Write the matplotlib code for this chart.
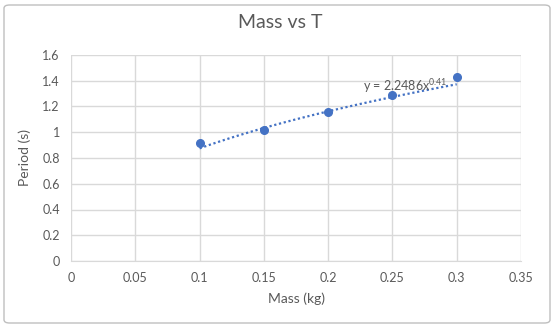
import matplotlib
matplotlib.use("Agg")
import matplotlib.pyplot as plt
import numpy as np
from matplotlib.patches import FancyBboxPatch

mass = [0.1, 0.15, 0.2, 0.25, 0.3]
period = [0.92, 1.02, 1.16, 1.29, 1.43]
coef_a = 2.2486
coef_b = 0.41

plt.rcParams['font.family'] = ['Lato', 'DejaVu Sans']
plt.rcParams['mathtext.fontset'] = 'custom'
plt.rcParams['mathtext.rm'] = 'Lato'
plt.rcParams['mathtext.it'] = 'Lato'
gray = '#595959'
blue = '#4472C4'

fig = plt.figure(figsize=(5.6, 3.27), dpi=100)
ax = fig.add_axes([71/560, 1-261/327, 450/560, 206/327])

xt = np.linspace(min(mass), max(mass), 100)
ax.plot(xt, coef_a * xt ** coef_b, linestyle=(0, (1, 1.2)), color=blue, lw=1.6, zorder=2)
ax.plot(mass, period, 'o', color=blue, markersize=5.5, zorder=3)

ax.set_xlim(0, 0.35)
ax.set_ylim(0, 1.6)
ax.set_xticks(np.arange(0, 0.351, 0.05))
ax.set_yticks(np.arange(0, 1.61, 0.2))
ax.set_xticklabels(['0', '0.05', '0.1', '0.15', '0.2', '0.25', '0.3', '0.35'])
ax.set_yticklabels(['0', '0.2', '0.4', '0.6', '0.8', '1', '1.2', '1.4', '1.6'])
ax.grid(True, color='#D9D9D9', lw=1)
ax.set_axisbelow(True)
for s in ['top', 'right', 'left']:
    ax.spines[s].set_visible(False)
ax.spines['bottom'].set_color('#D9D9D9')
ax.tick_params(length=0, colors=gray, labelsize=9, pad=8)
ax.set_xlabel('Mass (kg)', color=gray, fontsize=10, labelpad=6)
ax.set_ylabel('Period (s)', color=gray, fontsize=10, labelpad=8)

ax.text(0.227, 1.36, r'y = 2.2486x$\mathregular{^{0.41}}$', color=gray, fontsize=9, va='center', ha='left')

fig.text(0.5, 1-23/327, 'Mass vs T', ha='center', va='center', color=gray, fontsize=14)

border = FancyBboxPatch((4/560, 4/327), 546/560, 318/327, boxstyle='round,pad=0,rounding_size=0.01',
                        transform=fig.transFigure, fill=False, edgecolor='#BFBFBF', lw=1)
fig.patches.append(border)

fig.savefig('out.png', dpi=100)
